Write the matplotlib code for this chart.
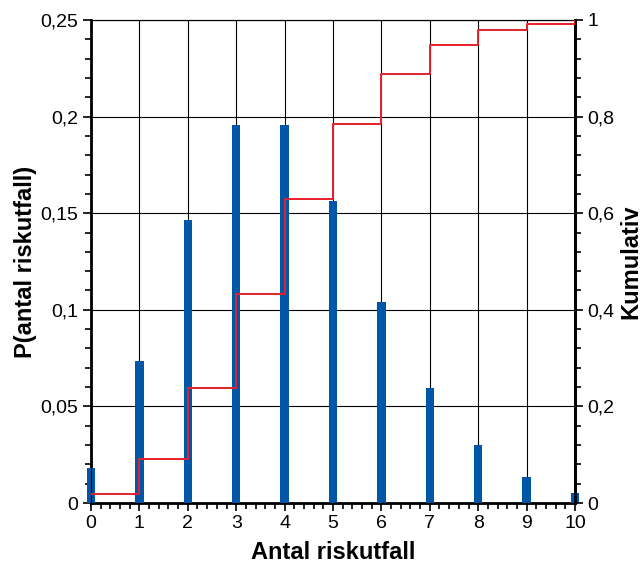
import matplotlib.pyplot as plt
from matplotlib.ticker import MultipleLocator, FuncFormatter

plt.rcParams['font.family'] = ['Liberation Sans', 'DejaVu Sans']

# data
antal = [0, 1, 2, 3, 4, 5, 6, 7, 8, 9, 10]
prob = [0.0180, 0.0733, 0.1465, 0.1954, 0.1954, 0.1563, 0.1042, 0.0595, 0.0298, 0.0132, 0.0053]
kumulativ = [0.018, 0.092, 0.238, 0.433, 0.629, 0.785, 0.889, 0.949, 0.979, 0.992, 0.997]


def komma(v, pos):
    return ('%g' % round(v, 4)).replace('.', ',')


fig = plt.figure(figsize=(6.43, 5.66), dpi=100)
ax = fig.add_axes([91 / 643, 1 - 503 / 566, 484 / 643, 483 / 566])

ax.bar(antal, prob, width=0.175, color='#0057A8', zorder=3, clip_on=False)
ax.set_xlim(0, 10)
ax.set_ylim(0, 0.25)
ax.xaxis.set_major_locator(MultipleLocator(1))
ax.xaxis.set_minor_locator(MultipleLocator(0.2))
ax.yaxis.set_major_locator(MultipleLocator(0.05))
ax.yaxis.set_minor_locator(MultipleLocator(0.01))
ax.yaxis.set_major_formatter(FuncFormatter(komma))
ax.grid(True, which='major', color='black', linewidth=0.8, zorder=0)
ax.set_axisbelow(True)
ax.tick_params(which='both', direction='out', labelsize=14, width=1.2)
ax.tick_params(which='major', length=6, pad=3)
ax.tick_params(which='minor', length=4)
for s in ['left', 'bottom']:
    ax.spines[s].set_linewidth(2)
ax.spines['top'].set_linewidth(0.8)
ax.spines['right'].set_linewidth(2)
ax.set_xlabel('Antal riskutfall', fontsize=17, fontweight='bold', labelpad=6)
ax.set_ylabel('P(antal riskutfall)', fontsize=17, fontweight='bold')
ax.yaxis.set_label_coords(-0.112, 0.5)

ax2 = ax.twinx()
ax2.step(antal, kumulativ, where='post', color='#E8202A', linewidth=1.4, zorder=4)
ax2.set_ylim(0, 1)
ax2.yaxis.set_major_locator(MultipleLocator(0.2))
ax2.yaxis.set_minor_locator(MultipleLocator(0.04))
ax2.yaxis.set_major_formatter(FuncFormatter(komma))
ax2.tick_params(which='both', direction='out', labelsize=14, width=1.2)
ax2.tick_params(which='major', length=6, pad=3)
ax2.tick_params(which='minor', length=4)
ax2.spines['right'].set_linewidth(2)
ax2.set_ylabel('Kumulativ', fontsize=17, fontweight='bold')
ax2.yaxis.set_label_coords(1.092, 0.5)

fig.savefig('out.png', dpi=100)
